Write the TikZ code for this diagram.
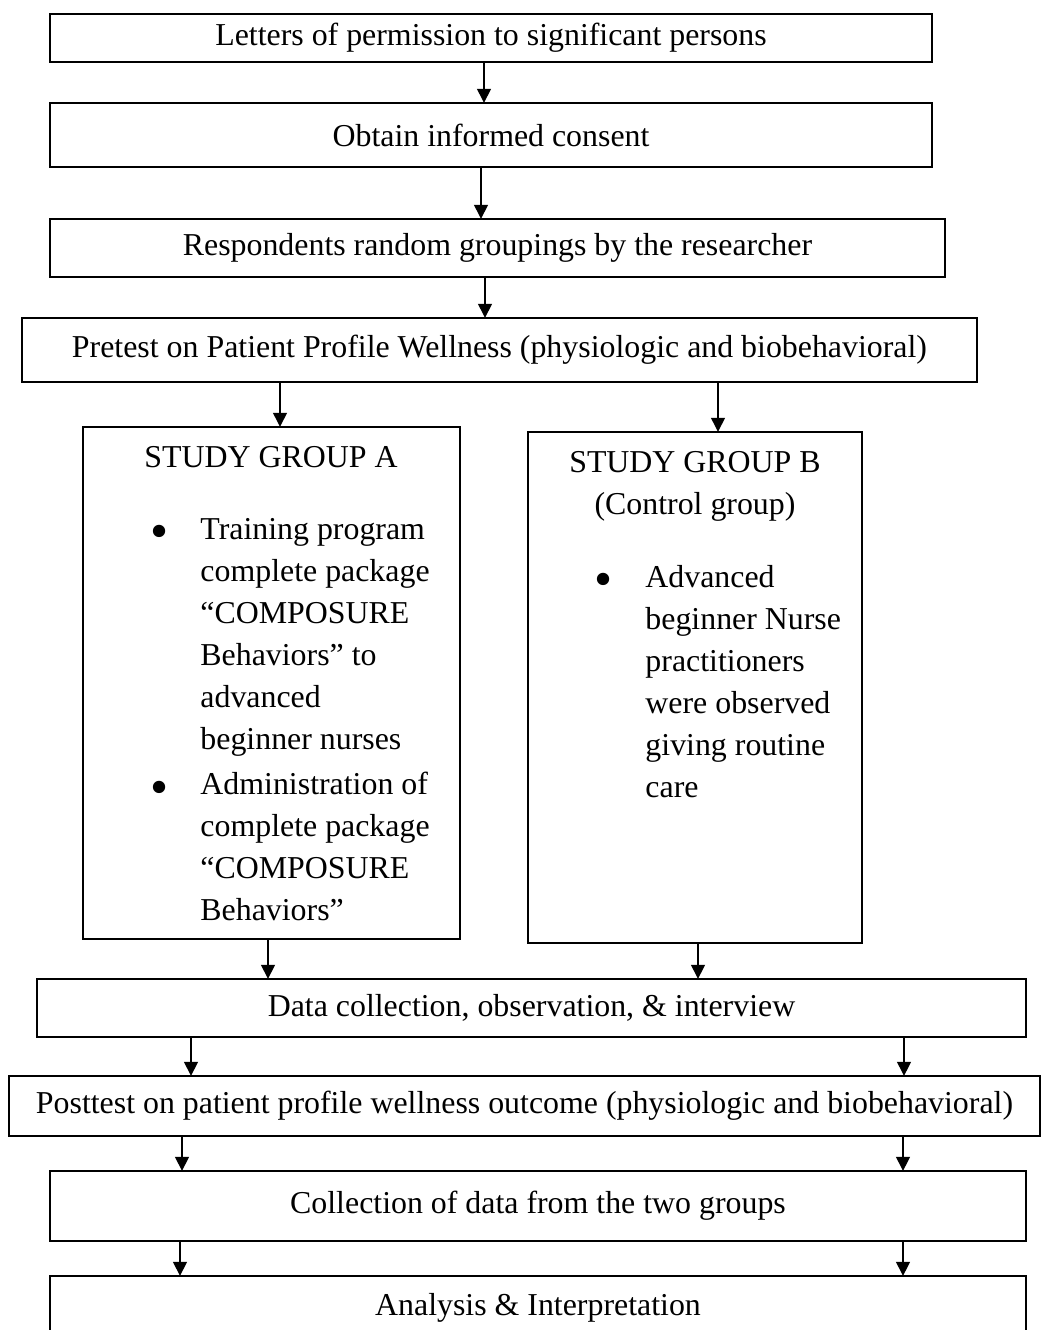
\documentclass[tikz,border=0pt]{standalone}
\usepackage{fontspec}
\setmainfont{Liberation Serif}
\usetikzlibrary{arrows.meta}

\begin{document}
\begin{tikzpicture}[
        x=0.015cm, y=-0.015cm,
        >={Triangle[length=6pt,width=5.8pt]},
        every node/.style={font=\fontsize{13.6}{17.9}\selectfont},
        stepbox/.style={rectangle, draw, thick, inner sep=0pt, outer sep=0pt, align=center},
        listtext/.style={anchor=base west, align=left, inner sep=0pt},
        dot/.style={inner sep=0pt, font=\fontsize{22}{22}\selectfont},
        flow/.style={->, thick}
    ]
        \useasboundingbox (0,0) rectangle (1042,1330);

        % Steps before the groups
        \node[stepbox, minimum width=13.23cm, minimum height=0.72cm] (letters) at (491,38) {Letters of permission to significant persons};
        \node[stepbox, minimum width=13.23cm, minimum height=0.96cm] (consent) at (491,135) {Obtain informed consent};
        \node[stepbox, minimum width=13.425cm, minimum height=0.87cm] (grouping) at (497.5,248) {Respondents random groupings by the researcher};
        \node[stepbox, minimum width=14.325cm, minimum height=0.96cm] (pretest) at (499.5,350) {Pretest on Patient Profile Wellness (physiologic and biobehavioral)};

        % Study group A
        \node[stepbox, minimum width=5.655cm, minimum height=7.68cm] (groupA) at (271.5,683) {};
        \node[anchor=base, inner sep=0pt] (titleA) at (271,467) {STUDY GROUP A};
        \node[dot] (bulletA1) at (160,537) {\textbullet};
        \node[listtext] (itemA1) at (200,749) {Training program\\complete package\\“COMPOSURE\\Behaviors” to\\advanced\\beginner nurses};
        \node[dot] (bulletA2) at (160,793) {\textbullet};
        \node[listtext] (itemA2) at (200,920) {Administration of\\complete package\\“COMPOSURE\\Behaviors”};

        % Study group B
        \node[stepbox, minimum width=5.01cm, minimum height=7.665cm] (groupB) at (695,687.5) {};
        \node[anchor=base, inner sep=0pt] (titleB) at (695,472) {STUDY GROUP B};
        \node[anchor=base, inner sep=0pt] (controlB) at (695,514) {(Control group)};
        \node[dot] (bulletB1) at (604,585) {\textbullet};
        \node[listtext] (itemB1) at (645,797) {Advanced\\beginner Nurse\\practitioners\\were observed\\giving routine\\care};

        % Steps after the groups
        \node[stepbox, minimum width=14.835cm, minimum height=0.87cm] (datacoll) at (531.5,1008) {Data collection, observation, \& interview};
        \node[stepbox, minimum width=15.465cm, minimum height=0.9cm] (posttest) at (524.5,1106) {Posttest on patient profile wellness outcome (physiologic and biobehavioral)};
        \node[stepbox, minimum width=14.64cm, minimum height=1.05cm] (collect) at (538,1206) {Collection of data from the two groups};
        \node[stepbox, minimum width=14.64cm, minimum height=0.96cm] (analysis) at (538,1308) {Analysis \& Interpretation};

        \draw[flow] (letters.south -| 484,0) -- (consent.north -| 484,0);
        \draw[flow] (consent.south -| 481,0) -- (grouping.north -| 481,0);
        \draw[flow] (grouping.south -| 485,0) -- (pretest.north -| 485,0);
        \draw[flow] (pretest.south -| 280,0) -- (groupA.north -| 280,0);
        \draw[flow] (pretest.south -| 718,0) -- (groupB.north -| 718,0);
        \draw[flow] (groupA.south -| 268,0) -- (datacoll.north -| 268,0);
        \draw[flow] (groupB.south -| 698,0) -- (datacoll.north -| 698,0);

        % Two arrows between each of the last boxes
        \draw[flow] (datacoll.south -| 191,0) -- (posttest.north -| 191,0);
        \draw[flow] (datacoll.south -| 904,0) -- (posttest.north -| 904,0);
        \draw[flow] (posttest.south -| 182,0) -- (collect.north -| 182,0);
        \draw[flow] (posttest.south -| 903,0) -- (collect.north -| 903,0);
        \draw[flow] (collect.south -| 180,0) -- (analysis.north -| 180,0);
        \draw[flow] (collect.south -| 903,0) -- (analysis.north -| 903,0);

\end{tikzpicture}
\end{document}
